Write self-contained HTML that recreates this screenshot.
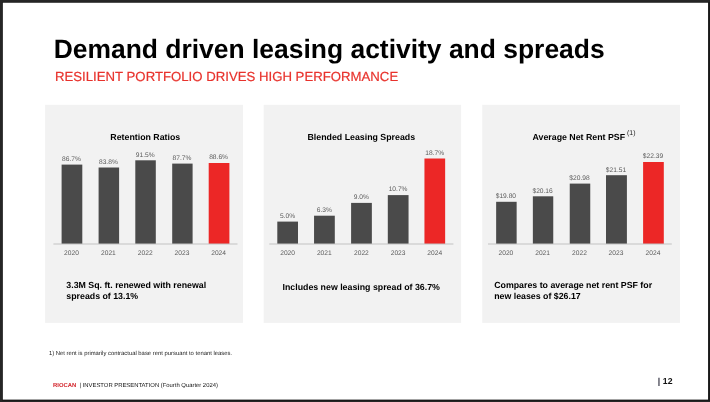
<!DOCTYPE html>
<html><head><meta charset="utf-8">
<title>Demand driven leasing activity and spreads</title>
<style>
html,body{margin:0;padding:0;background:#262626;}
body{width:710px;height:402px;overflow:hidden;}
svg{display:block;text-rendering:geometricPrecision;font-family:"Liberation Sans",sans-serif;}
.b{fill:#4a4a4a}.r{fill:#ec2726}
.pn{fill:#f2f2f2}
.ax{stroke:#c2c2c2;stroke-width:1}
.pt{font-size:8.8px;font-weight:bold;fill:#000;text-anchor:middle}
.v{font-size:6.65px;fill:#595959;text-anchor:middle}
.cap{font-size:8.8px;font-weight:bold;fill:#000}
.fn{font-size:5.88px;fill:#222}
</style></head><body>
<svg width="710" height="402" viewBox="0 0 710 402">
<rect x="0" y="0" width="710" height="402" fill="#262626"/>
<rect x="2.2" y="1.9" width="707.8" height="399" fill="#191919"/>
<rect x="2.85" y="2.75" width="705.2" height="396.85" fill="#ffffff"/>
<text x="53.7" y="58" font-size="26.45" font-weight="bold" fill="#000">Demand driven leasing activity and spreads</text>
<text x="55" y="81.4" font-size="13.2" fill="#e8322c" stroke="#e8322c" stroke-width="0.2">RESILIENT PORTFOLIO DRIVES HIGH PERFORMANCE</text>

<rect class="pn" x="45.1" y="104.8" width="197.85" height="218.1"/>
<rect class="pn" x="263.65" y="104.8" width="197.45" height="218.1"/>
<rect class="pn" x="482.25" y="104.8" width="197.8" height="218.1"/>
<text class="pt" x="145.3" y="139.8">Retention Ratios</text>
<rect class="b" x="61.6" y="164.6" width="20.7" height="79.4"/>
<rect class="b" x="98.6" y="167.5" width="20.5" height="76.5"/>
<rect class="b" x="135.3" y="160.3" width="20.5" height="83.7"/>
<rect class="b" x="172.2" y="163.6" width="20.4" height="80.4"/>
<rect class="r" x="208.7" y="163.0" width="20.7" height="81.0"/>
<line class="ax" x1="53.4" y1="244.0" x2="237.5" y2="244.0"/>
<text class="v" x="71.5" y="160.95">86.7%</text>
<text class="v" x="71.5" y="254.8">2020</text>
<text class="v" x="108.4" y="163.85">83.8%</text>
<text class="v" x="108.4" y="254.8">2021</text>
<text class="v" x="145.2" y="156.65">91.5%</text>
<text class="v" x="145.2" y="254.8">2022</text>
<text class="v" x="182.0" y="159.95">87.7%</text>
<text class="v" x="182.0" y="254.8">2023</text>
<text class="v" x="218.6" y="159.35">88.6%</text>
<text class="v" x="218.6" y="254.8">2024</text>
<text class="pt" x="361.3" y="139.8">Blended Leasing Spreads</text>
<rect class="b" x="277.3" y="221.6" width="20.7" height="22.4"/>
<rect class="b" x="314.05" y="215.7" width="20.75" height="28.3"/>
<rect class="b" x="351.1" y="202.9" width="20.75" height="41.1"/>
<rect class="b" x="387.8" y="195.1" width="20.75" height="48.9"/>
<rect class="r" x="424.45" y="158.5" width="20.7" height="85.5"/>
<line class="ax" x1="269.3" y1="244.0" x2="453.4" y2="244.0"/>
<text class="v" x="287.6" y="217.95">5.0%</text>
<text class="v" x="287.6" y="254.8">2020</text>
<text class="v" x="324.3" y="212.05">6.3%</text>
<text class="v" x="324.3" y="254.8">2021</text>
<text class="v" x="361.4" y="199.25">9.0%</text>
<text class="v" x="361.4" y="254.8">2022</text>
<text class="v" x="398.1" y="191.45">10.7%</text>
<text class="v" x="398.1" y="254.8">2023</text>
<text class="v" x="434.7" y="154.85">18.7%</text>
<text class="v" x="434.7" y="254.8">2024</text>
<text class="pt" x="584.0" y="139.8">Average Net Rent PSF<tspan font-size="6.9" font-weight="normal" fill="#222" dx="2" dy="-4.6">(1)</tspan></text>
<rect class="b" x="496.15" y="201.8" width="20.5" height="42.2"/>
<rect class="b" x="532.85" y="196.3" width="20.4" height="47.7"/>
<rect class="b" x="569.75" y="183.6" width="20.5" height="60.4"/>
<rect class="b" x="606.0" y="175.2" width="20.9" height="68.8"/>
<rect class="r" x="643.1" y="162.0" width="20.7" height="82.0"/>
<line class="ax" x1="488.0" y1="244.0" x2="671.8" y2="244.0"/>
<text class="v" x="505.9" y="198.15">$19.80</text>
<text class="v" x="505.9" y="254.8">2020</text>
<text class="v" x="542.6" y="192.65">$20.16</text>
<text class="v" x="542.6" y="254.8">2021</text>
<text class="v" x="579.5" y="179.95">$20.98</text>
<text class="v" x="579.5" y="254.8">2022</text>
<text class="v" x="616.0" y="171.55">$21.51</text>
<text class="v" x="616.0" y="254.8">2023</text>
<text class="v" x="653.0" y="158.35">$22.39</text>
<text class="v" x="653.0" y="254.8">2024</text>
<text class="cap" x="66.3" y="288.4">3.3M Sq. ft. renewed with renewal</text>
<text class="cap" x="66.3" y="299.2">spreads of 13.1%</text>
<text class="cap" x="361.2" y="289.7" text-anchor="middle">Includes new leasing spread of 36.7%</text>
<text class="cap" x="494.2" y="288.2">Compares to average net rent PSF for</text>
<text class="cap" x="494.2" y="298.8">new leases of $26.17</text>
<text class="fn" x="48.9" y="355">1) Net rent is primarily contractual base rent pursuant to tenant leases.</text>
<text class="fn" x="53" y="387"><tspan font-weight="bold" fill="#d3232a">RIOCAN</tspan><tspan dx="3.4" fill="#111">| INVESTOR PRESENTATION (Fourth Quarter 2024)</tspan></text>
<text x="657.8" y="384" font-size="8.7" font-weight="bold" fill="#111"><tspan fill="#2a2a3a">|</tspan><tspan dx="2.6">12</tspan></text>
</svg>
</body></html>
